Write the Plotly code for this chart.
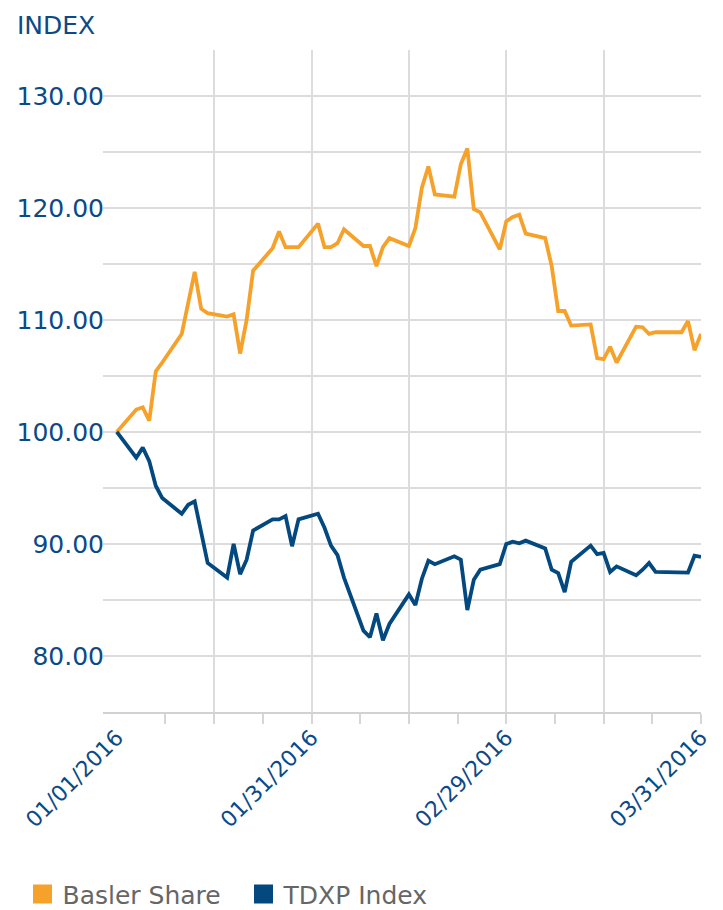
import plotly.graph_objects as go
import pandas as pd

# ---- data ----
dates = [
    "2016-01-01", "2016-01-04", "2016-01-05", "2016-01-06", "2016-01-07", "2016-01-08",
    "2016-01-11", "2016-01-12", "2016-01-13", "2016-01-14", "2016-01-15",
    "2016-01-18", "2016-01-19", "2016-01-20", "2016-01-21", "2016-01-22",
    "2016-01-25", "2016-01-26", "2016-01-27", "2016-01-28", "2016-01-29",
    "2016-02-01", "2016-02-02", "2016-02-03", "2016-02-04", "2016-02-05",
    "2016-02-08", "2016-02-09", "2016-02-10", "2016-02-11", "2016-02-12",
    "2016-02-15", "2016-02-16", "2016-02-17", "2016-02-18", "2016-02-19",
    "2016-02-22", "2016-02-23", "2016-02-24", "2016-02-25", "2016-02-26",
    "2016-02-29", "2016-03-01", "2016-03-02", "2016-03-03", "2016-03-04",
    "2016-03-07", "2016-03-08", "2016-03-09", "2016-03-10", "2016-03-11",
    "2016-03-14", "2016-03-15", "2016-03-16", "2016-03-17", "2016-03-18",
    "2016-03-21", "2016-03-22", "2016-03-23", "2016-03-24",
    "2016-03-28", "2016-03-29", "2016-03-30", "2016-03-31",
]

basler_share = [
    100.0, 102.0, 102.2, 101.0, 105.4, 106.2,
    108.75, 111.6, 114.3, 111.0, 110.6,
    110.3, 110.5, 107.0, 110.0, 114.4,
    116.4, 117.9, 116.5, 116.5, 116.5,
    118.6, 116.5, 116.5, 116.85, 118.1,
    116.6, 116.6, 114.8, 116.5, 117.3,
    116.6, 118.2, 121.8, 123.7, 121.2,
    121.0, 123.9, 125.3, 119.9, 119.6,
    116.3, 118.8, 119.2, 119.4, 117.7,
    117.3, 114.8, 110.8, 110.8, 109.5,
    109.6, 106.6, 106.5, 107.6, 106.2,
    109.4, 109.35, 108.75, 108.9,
    108.9, 109.9, 107.3, 108.75,
]

tdxp_index = [
    100.0, 97.7, 98.6, 97.4, 95.2, 94.1,
    92.7, 93.5, 93.8, 91.2, 88.3,
    87.0, 90.0, 87.3, 88.6, 91.2,
    92.2, 92.2, 92.5, 89.8, 92.2,
    92.7, 91.45, 89.85, 89.0, 87.0,
    82.26, 81.67, 83.8, 81.4, 82.86,
    85.5, 84.55, 86.9, 88.5, 88.2,
    88.9, 88.6, 84.1, 86.8, 87.7,
    88.2, 90.0, 90.2, 90.06, 90.3,
    89.6, 87.7, 87.4, 85.7, 88.4,
    89.85, 89.1, 89.2, 87.5, 88.0,
    87.2, 87.7, 88.3, 87.5,
    87.5, 87.45, 88.95, 88.85,
]

series_names = ["Basler Share", "TDXP Index"]
series_colors = ["#F6A12A", "#03497F"]

tick_dates = ["2016-01-01", "2016-01-31", "2016-03-01", "2016-03-31"]
tick_labels = ["01/01/2016", "01/31/2016", "02/29/2016", "03/31/2016"]

# ---- axis layout helpers ----
x_start = pd.Timestamp("2015-12-29 21:00")
x_end = pd.Timestamp("2016-03-31")
first = pd.Timestamp(dates[0])
step = (x_end - first) / 12
minor_ticks = [(first + step * k).strftime("%Y-%m-%d %H:%M") for k in range(1, 13)]
grid_ticks = [(first + step * k).strftime("%Y-%m-%d %H:%M") for k in range(2, 13, 2)]

blue_text = "#0B4A86"
grid_col = "#DCDCDC"
FONT = "DejaVu Sans"

fig = go.Figure()

for name, vals, col in zip(series_names, [basler_share, tdxp_index], series_colors):
    fig.add_trace(go.Scatter(
        x=dates, y=vals, mode="lines", name=name,
        line=dict(color=col, width=3.8),
        showlegend=False, hoverinfo="x+y",
    ))

# legend entries (square swatches)
for name, col in zip(series_names, series_colors):
    fig.add_trace(go.Scatter(
        x=[None], y=[None], mode="markers", name=name,
        marker=dict(symbol="square", size=16, color=col, line=dict(color=col, width=3)),
        xaxis="x2", showlegend=True,
    ))

# page body has an 8px margin, so the figure is a bit smaller than the window
fig.update_layout(
    width=715, height=902, autosize=False,
    margin=dict(l=95, r=22, t=42, b=198),
    paper_bgcolor="white", plot_bgcolor="white",
    font=dict(family=FONT, color=blue_text),
    xaxis=dict(
        type="date", range=[x_start, x_end], automargin=False,
        tickmode="array", tickvals=tick_dates, ticktext=tick_labels,
        tickangle=-45, ticks="", showgrid=False, zeroline=False,
        showline=True, linecolor="#D2D2D2", linewidth=2,
        tickfont=dict(size=22, color=blue_text, family=FONT),
        ticklabelstandoff=2,
        minor=dict(tickmode="array", tickvals=minor_ticks, ticks="outside",
                   ticklen=10, tickwidth=1.5, tickcolor="#D6D6D6", showgrid=False),
    ),
    xaxis2=dict(
        type="date", range=[x_start, x_end], overlaying="x", anchor="y", side="bottom",
        tickmode="array", tickvals=grid_ticks, showticklabels=False, ticks="",
        showgrid=True, gridcolor=grid_col, gridwidth=1.5, showline=False, zeroline=False,
        automargin=False,
    ),
    yaxis=dict(
        range=[75, 134.1], tick0=0, dtick=10, tickformat=".2f", automargin=False,
        showgrid=True, gridcolor=grid_col, gridwidth=1.5,
        minor=dict(tick0=0, dtick=5, showgrid=True, gridcolor=grid_col, gridwidth=1.5),
        zeroline=False, showline=False, ticks="",
        tickfont=dict(size=25, color=blue_text, family=FONT),
        ticklabelstandoff=-2,
    ),
    legend=dict(
        orientation="h", xref="container", yref="container",
        x=0.0203, y=0.0174, xanchor="left", yanchor="middle",
        font=dict(size=25, color="#666666", family=FONT),
        itemwidth=30, entrywidth=176, bgcolor="rgba(0,0,0,0)",
    ),
    annotations=[dict(
        text="INDEX", xref="paper", yref="paper",
        x=-0.147, y=1.0619, xanchor="left", yanchor="top",
        showarrow=False, font=dict(size=25, color=blue_text, family=FONT),
    )],
)

fig.write_html("out.html")
